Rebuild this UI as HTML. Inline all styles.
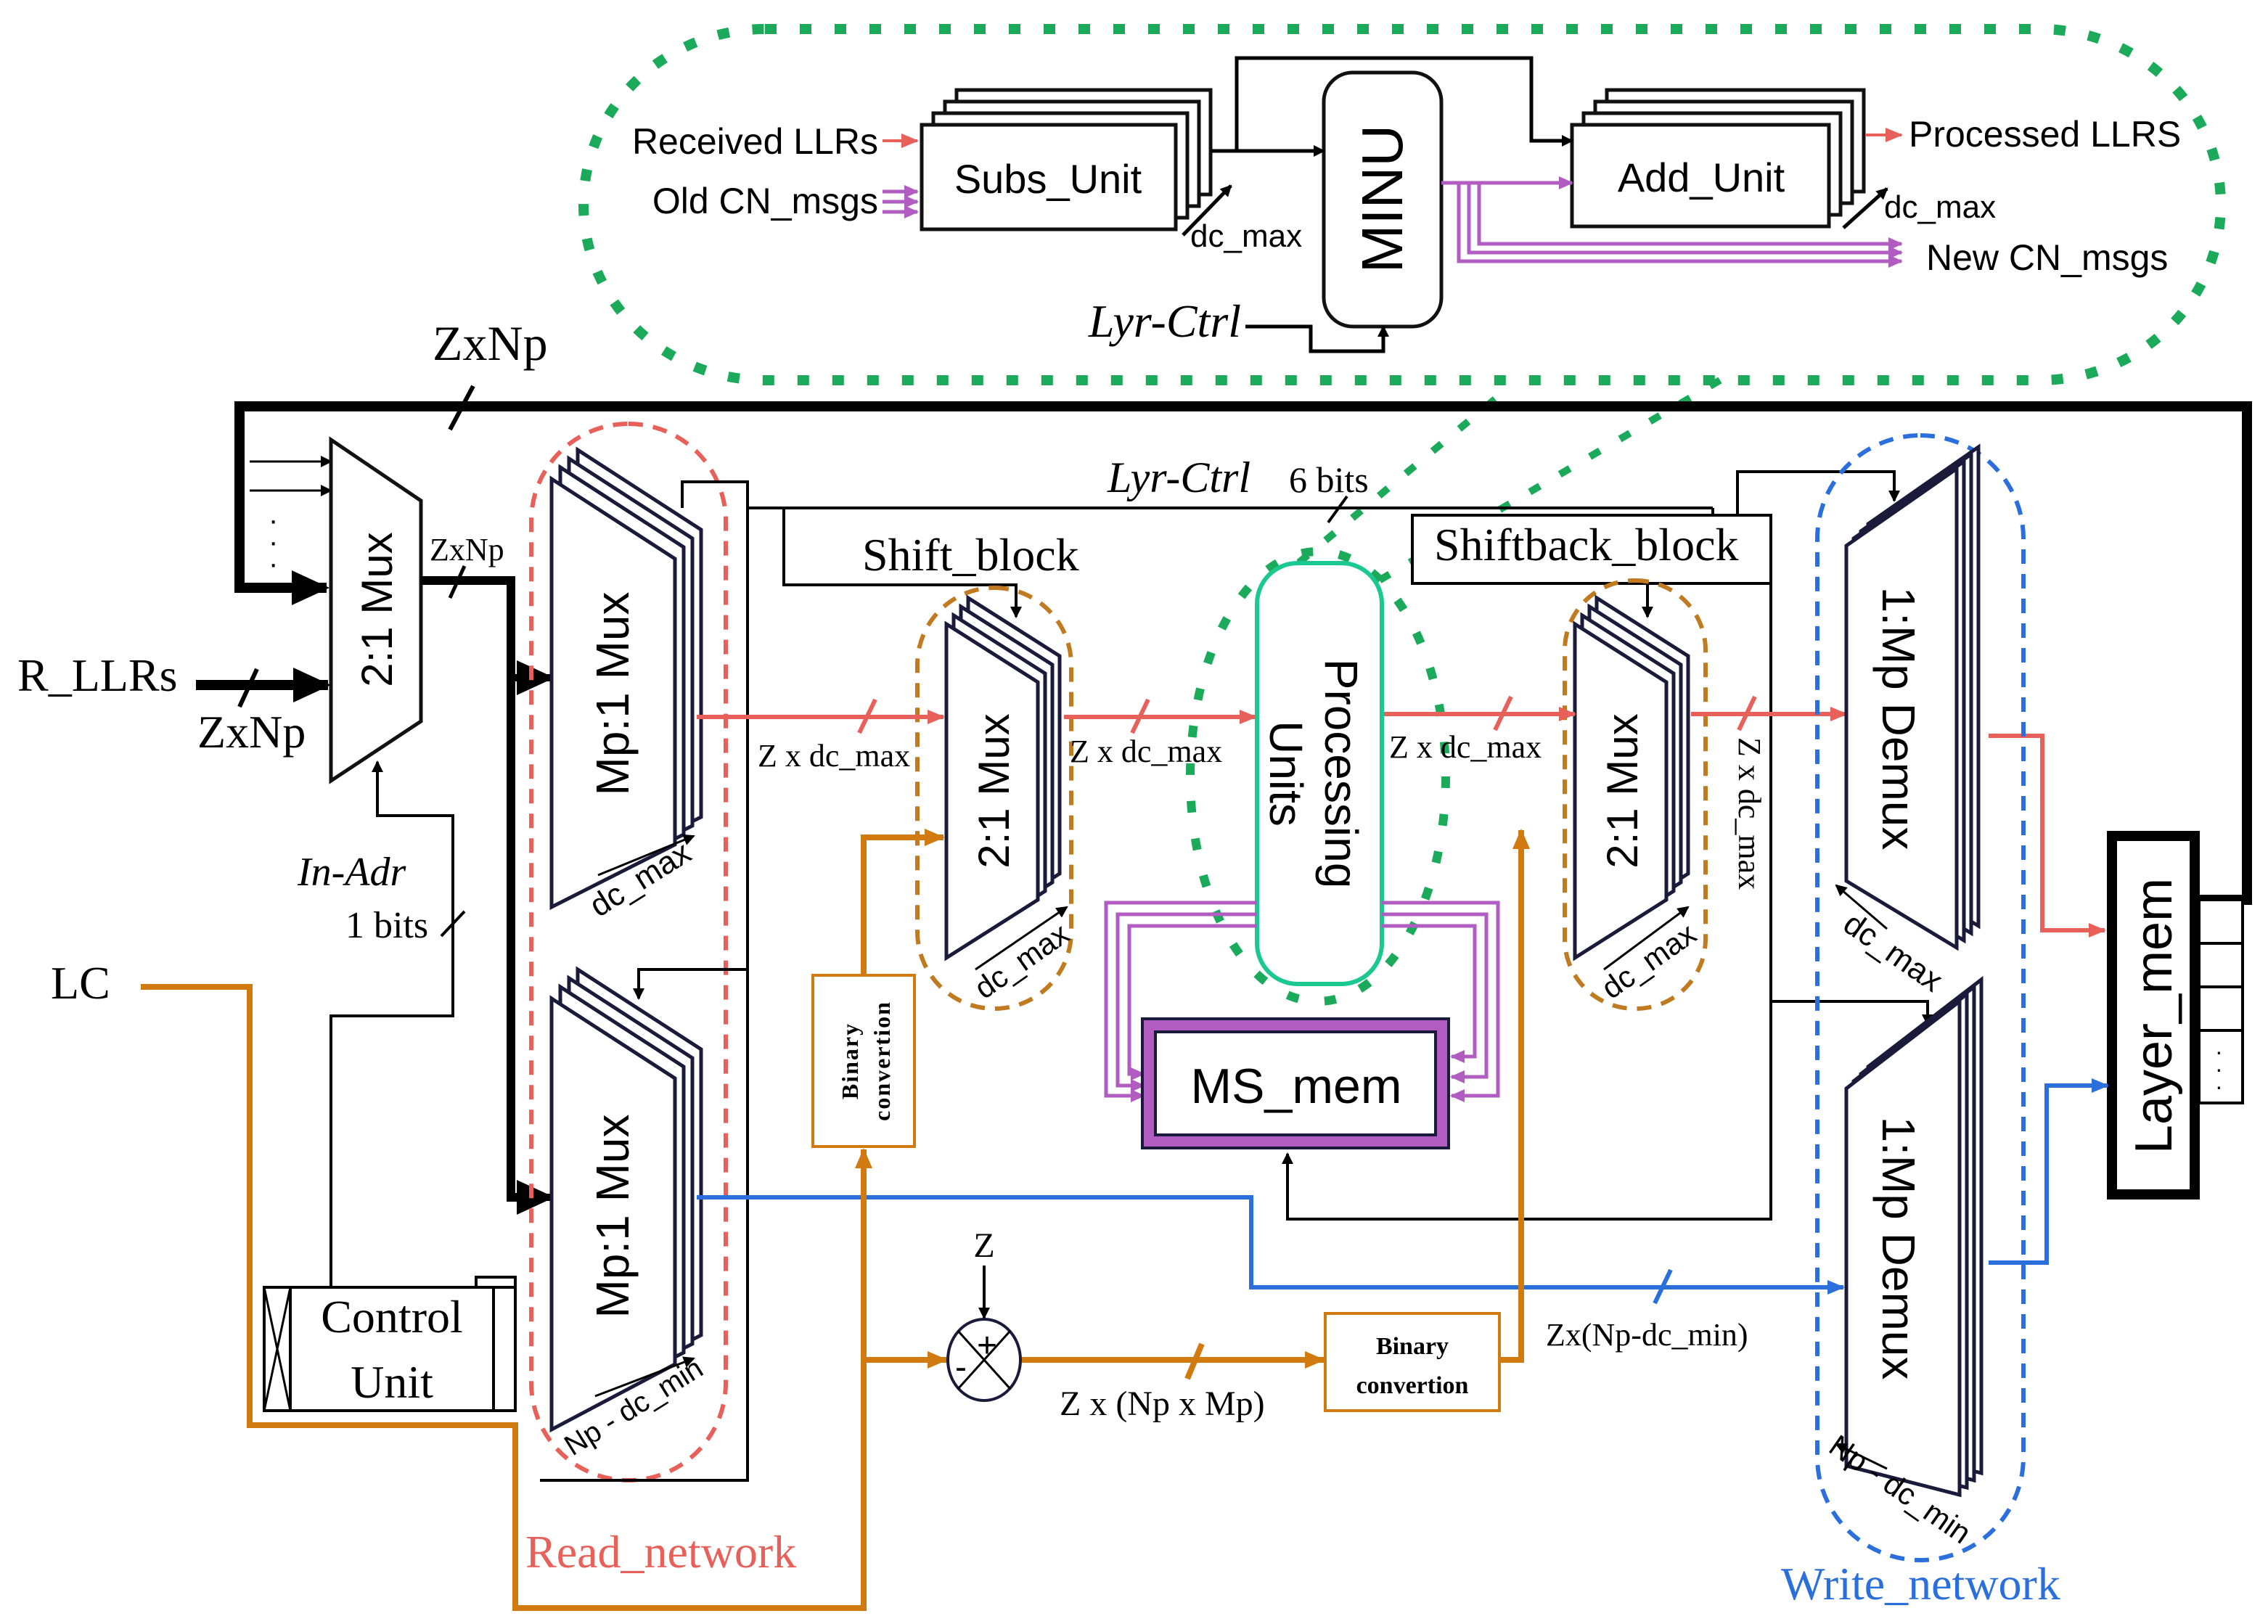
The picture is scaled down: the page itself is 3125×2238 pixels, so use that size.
<!DOCTYPE html>
<html><head><meta charset="utf-8"><style>
html,body{margin:0;padding:0;background:#fff}
svg{display:block}
text{font-family:"Liberation Sans",sans-serif}
.s{font-family:"Liberation Serif",serif}
</style></head><body>
<svg width="3125" height="2238" viewBox="0 0 1562.5 1119" xmlns="http://www.w3.org/2000/svg">
<defs>
<marker id="ak" markerWidth="8" markerHeight="8" refX="7" refY="4" orient="auto" markerUnits="userSpaceOnUse"><path d="M0,0L8,4L0,8z" fill="#000"/></marker>
<marker id="akb" markerWidth="26" markerHeight="24" refX="24" refY="12" orient="auto" markerUnits="userSpaceOnUse"><path d="M0,0L26,12L0,24z" fill="#000"/></marker>
<marker id="ar" markerWidth="12" markerHeight="10" refX="11" refY="5" orient="auto" markerUnits="userSpaceOnUse"><path d="M0,0L12,5L0,10z" fill="#e8605a"/></marker>
<marker id="ab" markerWidth="12" markerHeight="10" refX="11" refY="5" orient="auto" markerUnits="userSpaceOnUse"><path d="M0,0L12,5L0,10z" fill="#2a6fdb"/></marker>
<marker id="ao" markerWidth="14" markerHeight="12" refX="13" refY="6" orient="auto" markerUnits="userSpaceOnUse"><path d="M0,0L14,6L0,12z" fill="#d07a10"/></marker>
<marker id="ap" markerWidth="10" markerHeight="9" refX="9" refY="4.5" orient="auto" markerUnits="userSpaceOnUse"><path d="M0,0L10,4.5L0,9z" fill="#b05cc0"/></marker>
</defs>

<rect x="402" y="20" width="1128" height="242" rx="125" fill="none" stroke="#1aaa5a" stroke-width="7" stroke-dasharray="8,16"/>
<ellipse cx="908" cy="535" rx="88" ry="155" fill="none" stroke="#1aaa5a" stroke-width="6" stroke-dasharray="8,18"/>
<line x1="1030" y1="275" x2="880" y2="400" stroke="#1aaa5a" stroke-width="5" stroke-dasharray="8,16"/>
<line x1="1185" y1="262" x2="950" y2="400" stroke="#1aaa5a" stroke-width="5" stroke-dasharray="8,16"/>

<text x="605" y="106" font-size="25" text-anchor="end">Received LLRs</text>
<line x1="608" y1="97" x2="632" y2="97" stroke="#e8605a" stroke-width="2" marker-end="url(#ar)"/>
<text x="605" y="147" font-size="25" text-anchor="end">Old CN_msgs</text>
<g stroke="#b05cc0" stroke-width="2.5"><line x1="608" y1="132" x2="632" y2="132" marker-end="url(#ap)"/><line x1="608" y1="139" x2="632" y2="139" marker-end="url(#ap)"/><line x1="608" y1="146" x2="632" y2="146" marker-end="url(#ap)"/></g>
<g fill="#fff" stroke="#111" stroke-width="2.5">
<rect x="659" y="62" width="175" height="72"/><rect x="651" y="70" width="175" height="72"/><rect x="643" y="78" width="175" height="72"/><rect x="635" y="86" width="175" height="72"/>
<rect x="1107" y="62" width="177" height="70"/><rect x="1099" y="70" width="177" height="70"/><rect x="1091" y="78" width="177" height="70"/><rect x="1083" y="86" width="177" height="70"/>
<rect x="912" y="50" width="81" height="175" rx="20"/>
</g>
<text x="722" y="133" font-size="28" text-anchor="middle">Subs_Unit</text>
<text x="1172" y="132" font-size="28" text-anchor="middle">Add_Unit</text>
<text transform="translate(952,137) rotate(-90)" font-size="40" text-anchor="middle" dy="14">MINU</text>
<g stroke="#000" stroke-width="2.5" fill="none">
<line x1="834" y1="104" x2="912" y2="104" marker-end="url(#ak)"/>
<polyline points="852,104 852,40 1055,40 1055,97 1083,97" marker-end="url(#ak)"/>
<line x1="815" y1="162" x2="848" y2="128" marker-end="url(#ak)"/>
<line x1="1270" y1="157" x2="1300" y2="130" marker-end="url(#ak)"/>
<polyline points="858,225 903,225 903,242 953,242 953,225" marker-end="url(#ak)"/>
</g>
<text x="820" y="170" font-size="22">dc_max</text>
<text x="1298" y="150" font-size="22">dc_max</text>
<text class="s" x="855" y="232" font-size="32" font-style="italic" text-anchor="end">Lyr-Ctrl</text>
<g stroke="#b05cc0" stroke-width="2.5" fill="none">
<line x1="993" y1="126" x2="1083" y2="126" marker-end="url(#ap)"/>
<polyline points="1005,126 1005,180 1310,180" marker-end="url(#ap)"/>
<polyline points="1012,126 1012,174 1310,174" marker-end="url(#ap)"/>
<polyline points="1019,126 1019,168 1310,168" marker-end="url(#ap)"/>
</g>
<line x1="1285" y1="93" x2="1310" y2="93" stroke="#e8605a" stroke-width="2" marker-end="url(#ar)"/>
<text x="1315" y="101" font-size="25">Processed LLRS</text>
<text x="1327" y="186" font-size="25">New CN_msgs</text>

<polyline points="1515,620 1548,620 1548,280 165,280 165,405 225,405" fill="none" stroke="#000" stroke-width="7" marker-end="url(#akb)"/>
<line x1="310" y1="296" x2="326" y2="266" stroke="#000" stroke-width="3"/>
<text class="s" x="298" y="248" font-size="34">ZxNp</text>
<g stroke="#000" stroke-width="1.5"><line x1="172" y1="318" x2="228" y2="318" marker-end="url(#ak)"/><line x1="172" y1="338" x2="228" y2="338" marker-end="url(#ak)"/></g>
<text x="185" y="365" font-size="20">·</text><text x="185" y="380" font-size="20">·</text><text x="185" y="395" font-size="20">·</text>

<polygon points="228,303 290,345 290,497 228,538" fill="#fff" stroke="#111" stroke-width="2.5"/>
<text transform="translate(260,420) rotate(-90)" font-size="30" text-anchor="middle" dy="10">2:1 Mux</text>
<text class="s" x="12" y="476" font-size="32">R_LLRs</text>
<line x1="135" y1="472" x2="226" y2="472" stroke="#000" stroke-width="7" marker-end="url(#akb)"/>
<line x1="165" y1="487" x2="177" y2="461" stroke="#000" stroke-width="3"/>
<text class="s" x="136" y="515" font-size="32">ZxNp</text>
<polyline points="290,400 352,400 352,825 360,825" fill="none" stroke="#000" stroke-width="6"/>
<line x1="350" y1="467" x2="380" y2="467" stroke="#000" stroke-width="5" marker-end="url(#akb)"/>
<line x1="350" y1="825" x2="380" y2="825" stroke="#000" stroke-width="5" marker-end="url(#akb)"/>
<line x1="310" y1="412" x2="320" y2="390" stroke="#000" stroke-width="2.5"/>
<text class="s" x="296" y="386" font-size="22">ZxNp</text>
<text class="s" x="205" y="610" font-size="28" font-style="italic">In-Adr</text>
<text class="s" x="238" y="646" font-size="26">1 bits</text>
<g stroke="#000" stroke-width="2" fill="none">
<polyline points="228,887 228,700 312,700 312,562 260,562 260,525" marker-end="url(#ak)"/>
<line x1="304" y1="645" x2="320" y2="628"/>
</g>

<rect x="366" y="292" width="134" height="728" rx="67" fill="none" stroke="#e8605a" stroke-width="3" stroke-dasharray="10,7"/>
<g stroke="#000" stroke-width="2" fill="none">
<polyline points="470,350 470,332 515,332 515,1020 372,1020"/>
<line x1="515" y1="350" x2="1180" y2="350"/>
<polyline points="1180,350 1180,355"/>
<polyline points="540,350 540,403 700,403 700,425" marker-end="url(#ak)"/>
<polyline points="515,668 440,668 440,688" marker-end="url(#ak)"/>
</g>
<g fill="#fff" stroke="#1a1a3a" stroke-width="2.5">
<polygon points="398,310 483,365 483,563 398,605"/><polygon points="392,316 477,371 477,569 392,611"/><polygon points="386,322 471,377 471,575 386,617"/><polygon points="380,330 465,385 465,582 380,625"/>
<polygon points="398,668 483,723 483,920 398,963"/><polygon points="392,674 477,729 477,926 392,969"/><polygon points="386,680 471,735 471,932 386,975"/><polygon points="380,688 465,743 465,940 380,985"/>
</g>
<text transform="translate(422,478) rotate(-90)" font-size="32" text-anchor="middle" dy="11">Mp:1 Mux</text>
<text transform="translate(422,838) rotate(-90)" font-size="32" text-anchor="middle" dy="11">Mp:1 Mux</text>
<text transform="translate(445,612) rotate(-32)" font-size="22" text-anchor="middle">dc_max</text>
<text transform="translate(440,975) rotate(-32)" font-size="20" text-anchor="middle">Np - dc_min</text>
<line x1="412" y1="603" x2="478" y2="576" stroke="#000" stroke-width="1.5" marker-end="url(#ak)"/>
<line x1="410" y1="962" x2="478" y2="936" stroke="#000" stroke-width="1.5" marker-end="url(#ak)"/>
<text class="s" x="362" y="1080" font-size="32" fill="#e8605a">Read_network</text>

<text class="s" x="763" y="339" font-size="30" font-style="italic">Lyr-Ctrl</text>
<text class="s" x="888" y="339" font-size="25">6 bits</text>
<line x1="915" y1="360" x2="928" y2="342" stroke="#000" stroke-width="2"/>
<text class="s" x="594" y="393" font-size="32">Shift_block</text>
<rect x="973" y="355" width="247" height="47" fill="#fff" stroke="#000" stroke-width="2"/>
<text class="s" x="988" y="386" font-size="32">Shiftback_block</text>
<g stroke="#000" stroke-width="2" fill="none">
<polyline points="1197,355 1197,325 1305,325 1305,345" marker-end="url(#ak)"/>
<line x1="1135" y1="402" x2="1135" y2="425" marker-end="url(#ak)"/>
<polyline points="1220,402 1220,840 887,840 887,795" marker-end="url(#ak)"/>
<polyline points="1220,690 1328,690 1328,706" marker-end="url(#ak)"/>
</g>

<rect x="632" y="405" width="106" height="290" rx="53" fill="none" stroke="#c07a20" stroke-width="3" stroke-dasharray="10,7"/>
<g fill="#fff" stroke="#1a1a3a" stroke-width="2.5">
<polygon points="667,412 730,452 730,602 667,642"/><polygon points="662,418 725,458 725,608 662,648"/><polygon points="657,424 720,464 720,614 657,654"/><polygon points="652,430 715,470 715,620 652,660"/>
</g>
<text transform="translate(685,545) rotate(-90)" font-size="30" text-anchor="middle" dy="10">2:1 Mux</text>
<text transform="translate(708,668) rotate(-35)" font-size="21" text-anchor="middle">dc_max</text>
<line x1="672" y1="668" x2="735" y2="625" stroke="#000" stroke-width="1.5" marker-end="url(#ak)"/>

<rect x="1078" y="400" width="97" height="295" rx="48" fill="none" stroke="#c07a20" stroke-width="3" stroke-dasharray="10,7"/>
<g fill="#fff" stroke="#1a1a3a" stroke-width="2.5">
<polygon points="1100,412 1163,452 1163,602 1100,642"/><polygon points="1095,418 1158,458 1158,608 1095,648"/><polygon points="1090,424 1153,464 1153,614 1090,654"/><polygon points="1085,430 1148,470 1148,620 1085,660"/>
</g>
<text transform="translate(1118,545) rotate(-90)" font-size="30" text-anchor="middle" dy="10">2:1 Mux</text>
<text transform="translate(1140,668) rotate(-35)" font-size="21" text-anchor="middle">dc_max</text>
<line x1="1105" y1="668" x2="1163" y2="625" stroke="#000" stroke-width="1.5" marker-end="url(#ak)"/>

<g stroke="#e8605a" stroke-width="3" fill="none">
<line x1="480" y1="494" x2="650" y2="494" marker-end="url(#ar)"/>
<line x1="733" y1="494" x2="865" y2="494" marker-end="url(#ar)"/>
<line x1="952" y1="492" x2="1085" y2="492" marker-end="url(#ar)"/>
<line x1="1165" y1="492" x2="1272" y2="492" marker-end="url(#ar)"/>
<polyline points="1370,507 1407,507 1407,641 1450,641" marker-end="url(#ar)"/>
<line x1="592" y1="505" x2="603" y2="482"/><line x1="780" y1="505" x2="791" y2="482"/><line x1="1030" y1="503" x2="1041" y2="480"/><line x1="1198" y1="503" x2="1209" y2="480"/>
</g>
<text class="s" x="522" y="528" font-size="22">Z x dc_max</text>
<text class="s" x="737" y="525" font-size="22">Z x dc_max</text>
<text class="s" x="957" y="522" font-size="22">Z x dc_max</text>
<text class="s" transform="translate(1198,508) rotate(90)" font-size="22">Z x dc_max</text>

<rect x="866" y="388" width="86" height="290" rx="28" fill="#fff" stroke="#1ac890" stroke-width="3"/>
<text transform="translate(909,533) rotate(90)" font-size="32" text-anchor="middle"><tspan x="0" dy="-4">Processing</tspan><tspan x="0" dy="38">Units</tspan></text>

<g stroke="#b05cc0" stroke-width="2.5" fill="none">
<polyline points="866,622 762,622 762,755 788,755" marker-end="url(#ap)"/>
<polyline points="866,630 770,630 770,748 788,748" marker-end="url(#ap)"/>
<polyline points="866,638 778,638 778,740 788,740" marker-end="url(#ap)"/>
<polyline points="952,622 1032,622 1032,755 1000,755" marker-end="url(#ap)"/>
<polyline points="952,630 1024,630 1024,742 1000,742" marker-end="url(#ap)"/>
<polyline points="952,638 1016,638 1016,728 1000,728" marker-end="url(#ap)"/>
</g>
<rect x="787" y="702" width="211" height="89" fill="#b05cc0" stroke="#1a1a3a" stroke-width="2"/>
<rect x="796" y="711" width="193" height="71" fill="#fff" stroke="#1a1a3a" stroke-width="2"/>
<text x="893" y="760" font-size="34" text-anchor="middle">MS_mem</text>

<rect x="1252" y="300" width="142" height="775" rx="71" fill="none" stroke="#2a6fdb" stroke-width="3" stroke-dasharray="10,7"/>
<g fill="#fff" stroke="#1a1a3a" stroke-width="2.5">
<polygon points="1287,361 1363,308 1363,638 1287,592"/><polygon points="1282,366 1358,313 1358,643 1282,597"/><polygon points="1277,371 1353,318 1353,648 1277,602"/><polygon points="1272,376 1348,323 1348,653 1272,607"/>
<polygon points="1287,735 1365,675 1365,1015 1287,995"/><polygon points="1282,740 1360,680 1360,1020 1282,1000"/><polygon points="1277,745 1355,685 1355,1025 1277,1005"/><polygon points="1272,750 1350,690 1350,1030 1272,1010"/>
</g>
<text transform="translate(1308,495) rotate(90)" font-size="32" text-anchor="middle" dy="11">1:Mp Demux</text>
<text transform="translate(1308,860) rotate(90)" font-size="32" text-anchor="middle" dy="11">1:Mp Demux</text>
<text transform="translate(1300,662) rotate(35)" font-size="22" text-anchor="middle">dc_max</text>
<text transform="translate(1305,1032) rotate(35)" font-size="21" text-anchor="middle">Np - dc_min</text>
<line x1="1300" y1="640" x2="1265" y2="610" stroke="#000" stroke-width="1.5" marker-end="url(#ak)"/>
<line x1="1300" y1="1012" x2="1265" y2="995" stroke="#000" stroke-width="1.5" marker-end="url(#ak)"/>
<text class="s" x="1227" y="1102" font-size="32" fill="#2a6fdb">Write_network</text>

<rect x="1515" y="620" width="30" height="140" fill="#fff" stroke="#000" stroke-width="2"/>
<line x1="1515" y1="650" x2="1545" y2="650" stroke="#000" stroke-width="2"/><line x1="1515" y1="680" x2="1545" y2="680" stroke="#000" stroke-width="2"/><line x1="1515" y1="710" x2="1545" y2="710" stroke="#000" stroke-width="2"/>
<text x="1526" y="730" font-size="16">·</text><text x="1526" y="742" font-size="16">·</text><text x="1526" y="754" font-size="16">·</text>
<rect x="1455" y="576" width="57" height="247" fill="#fff" stroke="#000" stroke-width="7"/>
<text transform="translate(1484,700) rotate(-90)" font-size="36" text-anchor="middle" dy="12">Layer_mem</text>

<g stroke="#2a6fdb" stroke-width="3" fill="none">
<polyline points="480,825 862,825 862,887 1270,887" marker-end="url(#ab)"/>
<polyline points="1370,870 1410,870 1410,748 1452,748" marker-end="url(#ab)"/>
<line x1="1140" y1="898" x2="1151" y2="875"/>
</g>
<text class="s" x="1065" y="927" font-size="22">Zx(Np-dc_min)</text>

<g stroke="#d07a10" stroke-width="4" fill="none">
<polyline points="97,680 172,680 172,982 355,982 355,1108 595,1108 595,792" marker-end="url(#ao)"/>
<polyline points="595,672 595,577 650,577" marker-end="url(#ao)"/>
<line x1="595" y1="937" x2="652" y2="937" marker-end="url(#ao)"/>
<line x1="703" y1="937" x2="912" y2="937" marker-end="url(#ao)"/>
<polyline points="1033,937 1048,937 1048,572" marker-end="url(#ao)"/>
<line x1="818" y1="950" x2="828" y2="926"/>
</g>
<rect x="560" y="672" width="70" height="118" fill="#fff" stroke="#d07a10" stroke-width="2"/>
<text class="s" transform="translate(595,731) rotate(-90)" font-size="16" font-weight="bold" text-anchor="middle" letter-spacing="1"><tspan x="0" dy="-4">Binary</tspan><tspan x="0" dy="22">convertion</tspan></text>
<rect x="913" y="905" width="120" height="67" fill="#fff" stroke="#d07a10" stroke-width="2"/>
<text class="s" x="973" y="933" font-size="17" font-weight="bold" text-anchor="middle">Binary</text>
<text class="s" x="973" y="960" font-size="17" font-weight="bold" text-anchor="middle">convertion</text>
<text class="s" x="35" y="688" font-size="32">LC</text>
<text class="s" x="730" y="975" font-size="24">Z x (Np x Mp)</text>

<ellipse cx="678" cy="937" rx="25" ry="28" fill="#fff" stroke="#1a1a3a" stroke-width="2"/>
<line x1="660" y1="917" x2="696" y2="957" stroke="#000" stroke-width="1.5"/><line x1="696" y1="917" x2="660" y2="957" stroke="#000" stroke-width="1.5"/>
<text x="680" y="935" font-size="24" text-anchor="middle">+</text>
<text x="662" y="950" font-size="24" text-anchor="middle">-</text>
<line x1="678" y1="872" x2="678" y2="908" stroke="#000" stroke-width="2" marker-end="url(#ak)"/>
<text class="s" x="678" y="866" font-size="24" text-anchor="middle">Z</text>

<polyline points="328,887 328,880 355,880 355,887" fill="none" stroke="#000" stroke-width="2"/>
<rect x="182" y="887" width="173" height="85" fill="#fff" stroke="#000" stroke-width="2"/>
<line x1="200" y1="887" x2="200" y2="972" stroke="#000" stroke-width="2"/><line x1="340" y1="887" x2="340" y2="972" stroke="#000" stroke-width="2"/>
<line x1="182" y1="887" x2="200" y2="972" stroke="#000" stroke-width="1.5"/><line x1="200" y1="887" x2="182" y2="972" stroke="#000" stroke-width="1.5"/>
<text class="s" x="270" y="918" font-size="32" text-anchor="middle">Control</text>
<text class="s" x="270" y="963" font-size="32" text-anchor="middle">Unit</text>
</svg>
</body></html>
